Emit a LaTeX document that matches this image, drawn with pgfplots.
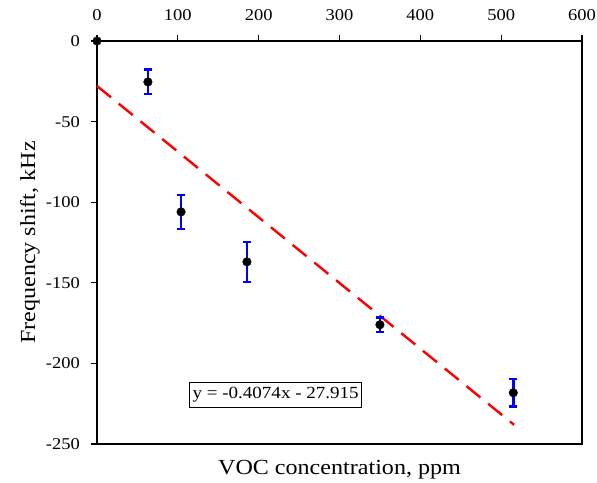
\documentclass[border=0pt]{standalone}
\usepackage{fontspec}
\setmainfont{Liberation Serif}[FakeStretch=1.12]
\usepackage{pgfplots}
\pgfplotsset{compat=1.18}

\begin{document}
\begin{tikzpicture}
\begin{axis}[
    scale only axis,
    width=485pt, height=403pt,
    xmin=0, xmax=600,
    ymin=-250, ymax=0,
    axis line style={line width=1.1pt},
    xtick={0,100,...,600},
    xticklabels={0,100,200,300,400,500,600},
    ytick={-250,-200,...,0},
    yticklabels={-250,-200,-150,-100,-50,0},
    xtick pos=upper, xticklabel pos=upper,
    ytick pos=left,
    tick align=outside,
    major tick length=6pt,
    tick style={line width=1.1pt, black},
    ticklabel style={font=\fontsize{16.5}{19}\selectfont, inner sep=0pt},
    xticklabel style={yshift=14pt},
    yticklabel style={xshift=-11pt},
    label style={font=\fontsize{21.5}{24}\selectfont, inner sep=0pt},
    xlabel={VOC concentration, ppm},
    ylabel={Frequency shift, kHz},
    x label style={at={(axis description cs:0.5,0)}, anchor=north, yshift=-16pt},
    y label style={at={(axis description cs:0,0.5)}, anchor=south, yshift=57pt},
    clip=false,
]
\addplot[red, line width=2.4pt, dash pattern=on 18pt off 10pt]
    coordinates {(0,-27.915) (516,-238.1)};
\addplot[only marks, mark=*, mark size=4.3pt, black,
    error bars/.cd, y dir=both, y explicit,
    error bar style={blue, line width=2.5pt},
    error mark options={blue, rotate=90, mark size=4.2pt, line width=2.5pt}]
    coordinates {
    (0,0) +- (0,0)
    (63,-25.4) +- (0,7.6)
    (104,-106) +- (0,10.5)
    (185.5,-137) +- (0,12.4)
    (350,-176) +- (0,4.6)
    (515,-218.2) +- (0,8.5)
    };
\node[draw, line width=0.9pt, fill=white, inner xsep=3pt, inner ysep=5pt,
    font=\fontsize{17}{20}\selectfont] at (axis cs:221,-219.6) {y = -0.4074x - 27.915};
\end{axis}
\path[use as bounding box] ([shift={(-97pt,-38pt)}]current axis.south west)
    rectangle ([shift={(15pt,41pt)}]current axis.north east);
\end{tikzpicture}
\end{document}
